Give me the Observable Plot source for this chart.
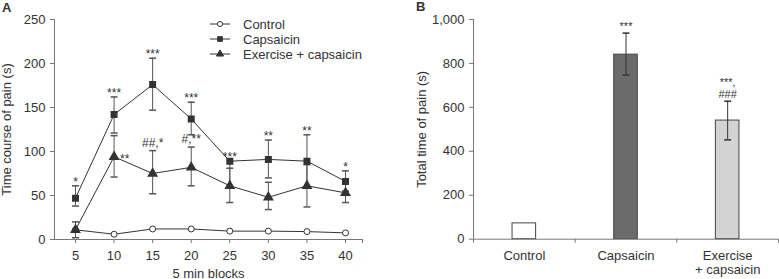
<!DOCTYPE html>
<html>
<head>
<meta charset="utf-8">
<script src="https://cdn.jsdelivr.net/npm/d3@7"></script>
<script src="https://cdn.jsdelivr.net/npm/@observablehq/plot@0.6"></script>
<style>
  html, body { margin: 0; padding: 0; background: #fff; }
  #wrap { position: relative; width: 779px; height: 279px; font-family: "Liberation Sans", Arial, sans-serif; color: #333; }
  #panelA { position: absolute; left: 0; top: 0; }
  #panelB { position: absolute; left: 400px; top: 0; }
  .tag { position: absolute; font-weight: bold; font-size: 13px; color: #333; line-height: 1; }
  #legend { position: absolute; left: 200px; top: 14px; }
</style>
</head>
<body>
<div id="wrap">
  <div id="panelA"></div>
  <div id="panelB"></div>
  <div class="tag" style="left:2px;top:1px;">A</div>
  <div class="tag" style="left:416px;top:0px;">B</div>
  <svg id="legend" width="180" height="50"></svg>
</div>
<script>
// ---------- Panel A data ----------
const blocks = [5, 10, 15, 20, 25, 30, 35, 40];
const controlMean = [11, 6, 12, 12, 9.5, 9.5, 9, 7.5];
const capsaicinMean = [47, 142, 176, 137, 89, 91, 89, 66];
const capsaicinHigh = [61, 162, 206, 156, 89, 113, 119, 78];
const capsaicinLow = [38, 121, 147, 119, 60, 70, 59, 55];
const exerciseMean = [11, 94, 75, 82, 61, 48, 61, 53];
const exerciseHigh = [20, 118, 101, 105, 81, 65, 85, 65];
const exerciseLow = [2, 71, 52, 61, 42, 34, 37, 42];
const capsaicinSig = ["*", "***", "***", "***", "***", "**", "**", "*"];
const exerciseSigAbove = ["", "", "##,*", "#,**", "", "", "", ""];
const exerciseSigRight = ["", "**", "", "", "", "", "", ""];
const yTicksA = [0, 50, 100, 150, 200, 250];
const seriesNames = ["Control", "Capsaicin", "Exercise + capsaicin"];

// ---------- Panel B data ----------
const groups = ["Control", "Capsaicin", "Exercise\n+ capsaicin"];
const totalMean = [72, 840, 540];
const totalHigh = [72, 938, 628];
const totalLow = [72, 747, 452];
const totalSig = ["", "***", "***,\n###"];
const groupFill = ["#ffffff", "#6b6b6b", "#d3d3d3"];
const yTicksB = [0, 200, 400, 600, 800, 1000];

const font = '"Liberation Sans", Arial, sans-serif';
const ink = "#333";
const axisInk = "#777";
const errInk = "#555";

const capSymbol = { draw(ctx) { ctx.moveTo(-3.5, 0); ctx.lineTo(3.5, 0); } };

function rows(mean, low, high) {
  return blocks.map((b, i) => ({ x: b, mean: mean[i], low: low ? low[i] : mean[i], high: high ? high[i] : mean[i], i }));
}
const ctrl = rows(controlMean);
const caps = rows(capsaicinMean, capsaicinLow, capsaicinHigh);
const exer = rows(exerciseMean, exerciseLow, exerciseHigh);

function capRows(r) {
  const out = [];
  r.forEach(d => {
    if (d.high !== d.mean) out.push({ x: d.x, y: d.high });
    if (d.low !== d.mean) out.push({ x: d.x, y: d.low });
  });
  return out;
}

const xDomA = [2.28, 42.2];

const plotA = Plot.plot({
  width: 400,
  height: 279,
  marginLeft: 54,
  marginRight: 38,
  marginTop: 19,
  marginBottom: 40,
  style: { fontFamily: font, fontSize: "13px", color: ink, background: "transparent", overflow: "visible" },
  x: { domain: xDomA },
  y: { domain: [0, 250] },
  marks: [
    Plot.axisY({ ticks: yTicksA, tickSize: 4, tickPadding: 5, stroke: axisInk, label: "Time course of pain (s)", labelAnchor: "center", labelOffset: 53, labelArrow: "none" }),
    Plot.axisX({ ticks: [...blocks, xDomA[1]], tickFormat: d => blocks.includes(d) ? String(d) : "", tickSize: 4, tickPadding: 7, stroke: axisInk, label: "5 min blocks", labelAnchor: "center", labelOffset: 38, labelArrow: "none" }),
    Plot.ruleY([0], { stroke: axisInk }),
    Plot.ruleX([xDomA[0]], { y1: 0, y2: 250, stroke: axisInk }),
    // lines
    Plot.line(ctrl, { x: "x", y: "mean", stroke: ink, strokeWidth: 1 }),
    Plot.line(caps, { x: "x", y: "mean", stroke: ink, strokeWidth: 1 }),
    Plot.line(exer, { x: "x", y: "mean", stroke: ink, strokeWidth: 1 }),
    // error bars
    Plot.ruleX(caps, { x: "x", y1: "low", y2: "high", stroke: errInk }),
    Plot.ruleX(exer, { x: "x", y1: "low", y2: "high", stroke: errInk }),
    Plot.dot(capRows(caps), { x: "x", y: "y", symbol: capSymbol, stroke: errInk, fill: "none", r: 3 }),
    Plot.dot(capRows(exer), { x: "x", y: "y", symbol: capSymbol, stroke: errInk, fill: "none", r: 3 }),
    // markers
    Plot.dot(ctrl, { x: "x", y: "mean", symbol: "circle", r: 3, fill: "#fff", stroke: ink, strokeWidth: 1 }),
    Plot.dot(caps, { x: "x", y: "mean", symbol: "square", r: 3.1, fill: ink, stroke: ink }),
    Plot.dot(exer, { x: "x", y: "mean", symbol: "triangle", r: 3.1, fill: ink, stroke: ink }),
    // significance annotations
    Plot.text(caps, { x: "x", y: "high", text: d => capsaicinSig[d.i], lineAnchor: "bottom", dy: 0, fontSize: 12, fill: ink }),
    Plot.text(exer, { x: "x", y: "high", text: d => exerciseSigAbove[d.i], lineAnchor: "bottom", dy: -4, fontSize: 12, fill: ink }),
    Plot.text(exer, { x: "x", y: "mean", text: d => exerciseSigRight[d.i], textAnchor: "start", lineAnchor: "bottom", dx: 6, dy: 6, fontSize: 12, fill: ink })
  ]
});
document.getElementById("panelA").appendChild(plotA);

// ---------- Panel B ----------
const barRows = groups.map((g, i) => ({ g, i, mean: totalMean[i], low: totalLow[i], high: totalHigh[i], sig: totalSig[i], fill: groupFill[i] }));
const barHalf = 0.116;
const errRowsB = barRows.filter(d => d.high !== d.mean);
const capRowsB = [];
errRowsB.forEach(d => { capRowsB.push({ x: d.i + 0.5, y: d.high }); capRowsB.push({ x: d.i + 0.5, y: d.low }); });

const plotB = Plot.plot({
  width: 379,
  height: 279,
  marginLeft: 73,
  marginRight: 1,
  marginTop: 19,
  marginBottom: 40.3,
  style: { fontFamily: font, fontSize: "13px", color: ink, background: "transparent", overflow: "visible" },
  x: { domain: [0, groups.length] },
  y: { domain: [0, 1000] },
  marks: [
    Plot.rectY(barRows, { x1: d => d.i + 0.5 - barHalf, x2: d => d.i + 0.5 + barHalf, y1: 0, y2: "mean", fill: d => d.fill, stroke: "#444", strokeWidth: 1 }),
    Plot.ruleX(errRowsB, { x: d => d.i + 0.5, y1: "low", y2: "high", stroke: ink }),
    Plot.dot(capRowsB, { x: "x", y: "y", symbol: capSymbol, stroke: ink, fill: "none", r: 3 }),
    Plot.axisY({ ticks: yTicksB, tickSize: 4, tickPadding: 5, stroke: axisInk, label: "Total time of pain (s)", labelAnchor: "center", labelOffset: 57, labelArrow: "none" }),
    Plot.axisX({ ticks: d3.range(groups.length + 1), tickFormat: () => "", tickSize: 4, stroke: axisInk, label: null }),
    Plot.axisX({ ticks: groups.map((g, i) => i + 0.5), tickFormat: d => groups[Math.floor(d)], tickSize: 0, tickPadding: 11, lineHeight: 1.05, label: null }),
    Plot.ruleY([0], { stroke: axisInk }),
    Plot.ruleX([0], { y1: 0, y2: 1000, stroke: axisInk }),
    Plot.text(barRows, { x: d => d.i + 0.5, y: "high", text: "sig", lineAnchor: "bottom", dy: -3, fontSize: 11, lineHeight: 1.15, fill: ink })
  ]
});
document.getElementById("panelB").appendChild(plotB);

// ---------- Legend for panel A ----------
const legend = d3.select("#legend");
const legendSymbols = [d3.symbolCircle, d3.symbolSquare, d3.symbolTriangle];
const legendFill = ["#fff", ink, ink];
seriesNames.forEach((name, i) => {
  const g = legend.append("g").attr("transform", `translate(0,${10 + i * 15})`);
  g.append("line").attr("x1", 10).attr("x2", 30).attr("y1", 0).attr("y2", 0).attr("stroke", ink);
  g.append("path").attr("transform", "translate(20,0)").attr("d", d3.symbol(legendSymbols[i], i === 0 ? 20 : 22)()).attr("fill", legendFill[i]).attr("stroke", ink);
  g.append("text").attr("x", 43).attr("y", 0).attr("dy", "0.35em").attr("font-family", font).attr("font-size", 13).attr("fill", ink).text(name);
});
</script>
</body>
</html>
